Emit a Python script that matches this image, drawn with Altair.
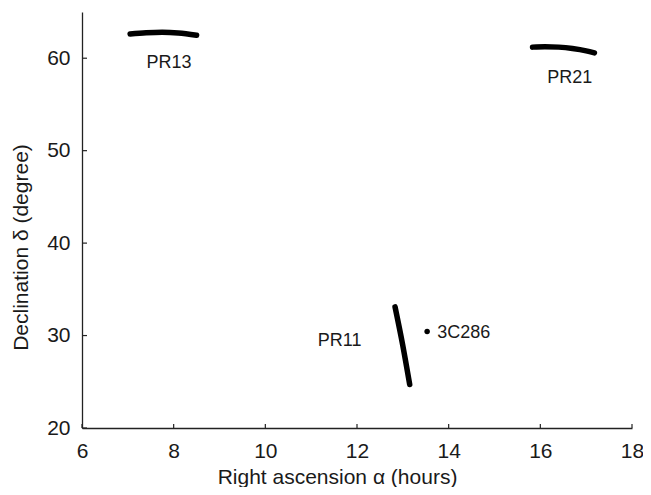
import altair as alt
import pandas as pd

# Tracks (right ascension in hours, declination in degrees)
pr13_ra = [7.05, 7.4, 7.75, 8.1, 8.5]
pr13_dec = [62.62, 62.76, 62.82, 62.74, 62.48]
pr21_ra = [15.83, 16.1, 16.4, 16.7, 17.0, 17.18]
pr21_dec = [61.2, 61.25, 61.2, 61.05, 60.8, 60.58]
pr11_ra = [12.83, 13.0, 13.15]
pr11_dec = [33.1, 28.9, 24.7]

# Source 3C286
src_ra = [13.53]
src_dec = [30.45]

# Labels
label_text = ["PR13", "PR21", "PR11"]
label_ra = [7.9, 16.64, 11.62]
label_dec = [59.5, 57.9, 29.45]
src_label = ["3C286"]
src_label_ra = [13.75]
src_label_dec = [30.3]

x_ticks = [6, 8, 10, 12, 14, 16, 18]
y_ticks = [20, 30, 40, 50, 60]

rows = []
for name, ras, decs in [("PR13", pr13_ra, pr13_dec), ("PR21", pr21_ra, pr21_dec), ("PR11", pr11_ra, pr11_dec)]:
    for i, (a, d) in enumerate(zip(ras, decs)):
        rows.append({"track": name, "i": i, "ra": a, "dec": d})
tracks = pd.DataFrame(rows)
src = pd.DataFrame({"ra": src_ra, "dec": src_dec})
labels = pd.DataFrame({"t": label_text, "ra": label_ra, "dec": label_dec})
slabels = pd.DataFrame({"t": src_label, "ra": src_label_ra, "dec": src_label_dec})
xt = pd.DataFrame({"ra": x_ticks})
yt = pd.DataFrame({"dec": y_ticks})

W, H = 550, 416
FONT = "Liberation Sans"
TXT = "#1a1a1a"

xscale = alt.Scale(domain=[6, 18], nice=False, zero=False)
yscale = alt.Scale(domain=[20, 65], nice=False, zero=False)

xaxis = alt.Axis(values=x_ticks, ticks=False, grid=False, labelPadding=12,
                 labelFontSize=21, labelFont=FONT, labelColor=TXT, labelFlush=False,
                 domainColor="#222222", domainWidth=1.3,
                 title="Right ascension α (hours)", titleFont=FONT, titleFontSize=21,
                 titleFontWeight="normal", titleColor=TXT, titleX=255, titleY=55,
                 titleBaseline="alphabetic", titleAlign="center")
yaxis = alt.Axis(values=y_ticks, ticks=False, grid=False, labelPadding=12,
                 labelFontSize=21, labelFont=FONT, labelColor=TXT, labelFlush=False,
                 domainColor="#222222", domainWidth=1.3,
                 title="Declination δ (degree)", titleFont=FONT, titleFontSize=21,
                 titleFontWeight="normal", titleColor=TXT, titleX=-61, titleY=235,
                 titleBaseline="middle", titleAlign="center")

X = alt.X("ra:Q", scale=xscale, axis=xaxis)
Y = alt.Y("dec:Q", scale=yscale, axis=yaxis)

line_layer = alt.Chart(tracks).mark_line(strokeWidth=5.5, strokeCap="round", color="black",
                                        interpolate="monotone").encode(
    x=X, y=Y, detail="track:N", order="i:Q",
)

pt_layer = alt.Chart(src).mark_circle(size=30, color="black", opacity=1).encode(x=X, y=Y)

lab_layer = alt.Chart(labels).mark_text(font=FONT, fontSize=18, color=TXT, align="center",
                                        baseline="middle").encode(x=X, y=Y, text="t:N")

slab_layer = alt.Chart(slabels).mark_text(font=FONT, fontSize=18, color=TXT, align="left",
                                          baseline="middle").encode(x=X, y=Y, text="t:N")

xtick_layer = alt.Chart(xt).mark_rule(color="#222222", strokeWidth=1.2).encode(
    x=X, y=alt.value(H), y2=alt.value(H - 4),
)

ytick_layer = alt.Chart(yt).mark_rule(color="#222222", strokeWidth=1.2).encode(
    y=Y, x=alt.value(0), x2=alt.value(5),
)

chart = alt.layer(line_layer, pt_layer, lab_layer, slab_layer, xtick_layer, ytick_layer).properties(
    width=W, height=H,
    autosize=alt.AutoSizeParams(type="none"),
    padding={"left": 74, "top": 4, "right": 11, "bottom": 59},
    background="white",
).configure_view(stroke=None)

chart.save("out.html", embed_options={"renderer": "svg", "actions": False})
